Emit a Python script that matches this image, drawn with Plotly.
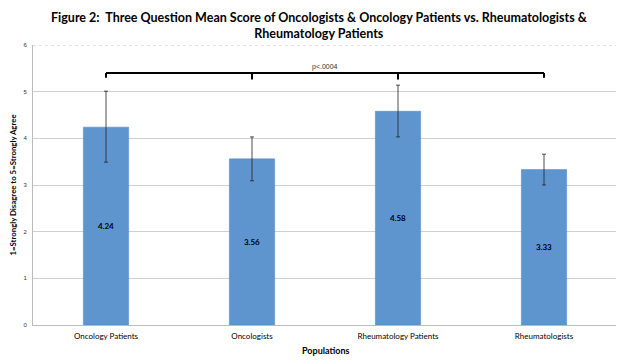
import plotly.graph_objects as go

categories = ["Oncology Patients", "Oncologists", "Rheumatology Patients", "Rheumatologists"]
means = [4.24, 3.56, 4.58, 3.33]
err_plus = [0.77, 0.47, 0.56, 0.33]
err_minus = [0.75, 0.47, 0.55, 0.33]
value_labels = ["4.24", "3.56", "4.58", "3.33"]
p_label = "p<.0004"
title_text = "Figure 2:  Three Question Mean Score of Oncologists &amp; Oncology Patients vs. Rheumatologists &amp;<br>Rheumatology Patients"

fig = go.Figure()
fig.add_trace(go.Bar(
    x=categories, y=means,
    marker=dict(color="#5F95CF", line=dict(color="#4F84BF", width=0.5)),
    error_y=dict(type="data", symmetric=False, array=err_plus, arrayminus=err_minus,
                 color="#222222", thickness=0.8, width=2),
    text=["<b>%s</b>" % t for t in value_labels],
    textposition="inside", insidetextanchor="middle",
    textfont=dict(family="Lato, Arial", size=8, color="#000000"),
    width=0.31,
    showlegend=False,
))

# significance bracket
yb = 5.4
shapes = [
    dict(type="line", xref="x", yref="y", x0=0, x1=3, y0=yb, y1=yb, line=dict(color="black", width=2)),
    dict(type="line", xref="x", yref="y", x0=0, x1=0, y0=yb, y1=yb - 0.1, line=dict(color="black", width=2)),
    dict(type="line", xref="x", yref="y", x0=3, x1=3, y0=yb, y1=yb - 0.1, line=dict(color="black", width=2)),
    dict(type="line", xref="x", yref="y", x0=1, x1=1, y0=yb, y1=yb - 0.14, line=dict(color="black", width=2)),
    dict(type="line", xref="x", yref="y", x0=2, x1=2, y0=yb, y1=yb - 0.14, line=dict(color="black", width=2)),
    dict(type="line", xref="paper", yref="y", x0=0, x1=1, y0=6, y1=6, line=dict(color="#C8C8C8", width=1, dash="dot")),
]

fig.update_layout(
    width=616, height=356,
    margin=dict(l=25, r=7, t=37, b=39, autoexpand=False),
    paper_bgcolor="white", plot_bgcolor="white",
    shapes=shapes,
    annotations=[
        dict(x=1.5, y=yb, xref="x", yref="y", text=p_label, showarrow=False,
             yanchor="bottom", yshift=0, font=dict(family="Arial", size=7, color="#333333")),
        dict(x=0.49, y=1, xref="paper", yref="paper", text="<b>%s</b>" % title_text, showarrow=False,
             xanchor="center", yanchor="bottom", yshift=2, align="center",
             font=dict(family="Lato, Arial", size=12.5, color="#000000")),
        dict(x=0.5, y=0, xref="paper", yref="paper", text="<b>Populations</b>", showarrow=False,
             xanchor="center", yanchor="top", yshift=-18,
             font=dict(family="Lato, Arial", size=9, color="#000")),
    ],
    xaxis=dict(
        tickfont=dict(family="Lato, Arial", size=8, color="#000"), ticklabelstandoff=3,
        showline=True, linecolor="#BBBBBB", linewidth=1, ticks="", automargin=False,
    ),
    yaxis=dict(
        title=dict(text="<b>1=Strongly Disagree to 5=Strongly Agree</b>", font=dict(family="Lato, Arial", size=7.8, color="#000"), standoff=8),
        range=[0, 6], dtick=1, tickfont=dict(family="Arial", size=6, color="#333"), ticklabelstandoff=4,
        showgrid=True, gridcolor="#D0D0D0", gridwidth=1,
        showline=True, linecolor="#BBBBBB", linewidth=1, mirror=False,
        zeroline=False, ticks="", automargin=False,
    ),
    bargap=0.69,
)
fig.write_html("out.html")
